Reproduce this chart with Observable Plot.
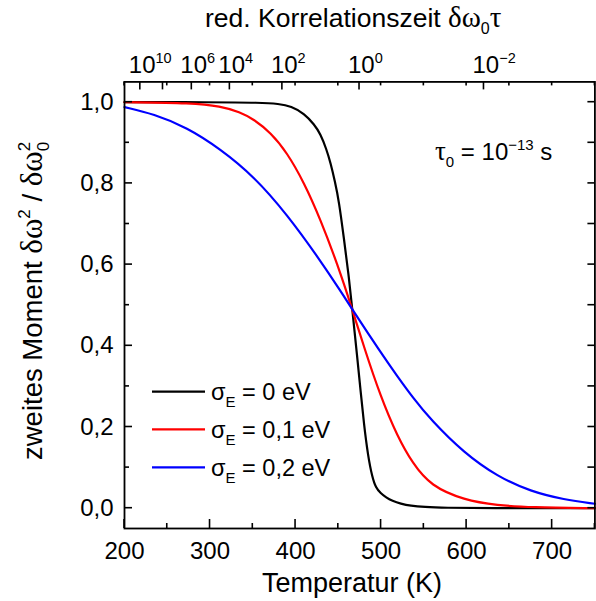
<!DOCTYPE html>
<html><head><meta charset="utf-8">
<script src="https://cdn.jsdelivr.net/npm/d3@7"></script>
<script src="https://cdn.jsdelivr.net/npm/@observablehq/plot@0.6"></script>
<style>
body{margin:0;background:#fff}
#chart svg{display:block}
</style>
</head><body><div id="chart"></div>
<script>
// ---- data ----
const blackT = [200, 300, 360, 380, 395, 410, 422, 429, 436, 441, 446, 450.7, 456.5, 462, 466.3, 472.1, 476, 479.9, 484.6, 489.7, 494, 499.4, 506, 513, 523, 534.5, 550, 575, 620, 750];
const blackV = [1, 1, 0.999, 0.996, 0.99, 0.972, 0.945, 0.922, 0.885, 0.85, 0.805, 0.757, 0.665, 0.576, 0.49, 0.372, 0.29, 0.208, 0.13, 0.076, 0.05, 0.037, 0.026, 0.018, 0.011, 0.006, 0.003, 0.001, 0, 0];
const redT = [200, 280, 312, 335, 351, 371, 390, 410, 429, 449, 466.3, 480, 499.4, 519, 537, 558, 597, 636, 675, 750];
const redV = [1, 0.998, 0.99, 0.976, 0.958, 0.925, 0.876, 0.802, 0.712, 0.601, 0.49, 0.397, 0.275, 0.177, 0.11, 0.055, 0.02, 0.007, 0.002, 0];
const blueT = [200, 234, 273, 312, 351, 390, 429, 451, 466.3, 499.4, 519, 537, 558, 597, 636, 675, 714, 750];
const blueV = [0.988, 0.971, 0.938, 0.885, 0.818, 0.724, 0.61, 0.54, 0.49, 0.384, 0.325, 0.273, 0.218, 0.136, 0.078, 0.041, 0.021, 0.011];

const seriesNames = ["0", "0,1", "0,2"];
const seriesColors = ["#000000", "#ff0000", "#0000ff"];

const xMajorTicks = [200, 300, 400, 500, 600, 700];
const xMinorTicks = [250, 350, 450, 550, 650, 750];
const yMajorTicks = [0, 0.2, 0.4, 0.6, 0.8, 1.0];
const yMinorTicks = [0.1, 0.3, 0.5, 0.7, 0.9];
// top axis: reduced correlation time δω0τ, tick positions given in temperature
const topTickT = [218.5, 245.0, 278.7, 323.2, 384.6, 474.8, 620.3];
const topTickExp = ["10", "", "6", "4", "2", "0", "\u22122"];

// ---- build ----
const toRows = (T, V) => T.map((t, i) => ({T: t, v: V[i]}));
const seriesRows = [toRows(blackT, blackV), toRows(redT, redV), toRows(blueT, blueV)];
const fmtY = d => d3.format(".1f")(d).replace(".", ",");

const xDomain = [200, 750], yDomain = [-0.05, 1.05];
const W = 596, H = 601, ML = 124, MR = 1.6, MT = 81.4, MB = 73;

const chart = Plot.plot({
  width: W, height: H,
  marginLeft: ML, marginRight: MR, marginTop: MT, marginBottom: MB,
  style: {fontFamily: "'Liberation Sans', Arial, sans-serif", fontSize: "24px", color: "#000", background: "#fff", overflow: "visible"},
  x: {domain: xDomain},
  y: {domain: yDomain},
  marks: [
    ...seriesRows.map((rows, i) => Plot.line(rows, {x: "T", y: "v", stroke: seriesColors[i], strokeWidth: 2.2, curve: "basis"})),
    Plot.frame({stroke: "#000", strokeWidth: 1.8}),
    Plot.axisX({anchor: "bottom", ticks: xMajorTicks, tickSize: 0, tickPadding: 13.5, tickFormat: d => String(d), label: null}),
    Plot.axisY({anchor: "left", ticks: yMajorTicks, tickSize: 0, tickPadding: 11, tickFormat: fmtY, label: null})
  ]
});
document.getElementById("chart").appendChild(chart);

const svg = d3.select(chart);
const xs = chart.scale("x"), ys = chart.scale("y");
const SANS = "'Liberation Sans', Arial, sans-serif";
const SERIF = "'Liberation Serif', 'Times New Roman', serif";

// inward tick marks, positioned through Plot's scales
const frameTop = MT, frameBottom = H - MB, frameLeft = ML, frameRight = W - MR;
const tg = svg.append("g");
const addLine = (x1, y1, x2, y2) => tg.append("line")
  .attr("x1", x1).attr("y1", y1).attr("x2", x2).attr("y2", y2)
  .attr("stroke", "#000").attr("stroke-width", 1.6)
  .style("stroke", "#000").style("stroke-width", "1.6px");
const vTicks = (vals, y0, len) => vals.forEach(v => { const x = xs.apply(v); addLine(x, y0, x, y0 + len); });
const hTicks = (vals, x0, len) => vals.forEach(v => { const y = ys.apply(v); addLine(x0, y, x0 + len, y); });
vTicks(xMajorTicks, frameBottom, -9);
vTicks(xMinorTicks, frameBottom, -5);
vTicks(topTickT, frameTop, 8);
vTicks([...xMajorTicks, ...xMinorTicks], frameTop, 4);
hTicks(yMajorTicks, frameLeft, 8);
hTicks(yMinorTicks, frameLeft, 5);
hTicks([...yMajorTicks, ...yMinorTicks], frameRight, -7);

// top tick labels 10^n
const topG = svg.append("g").attr("font-family", SANS).attr("fill", "#000").attr("text-anchor", "start");
topTickT.forEach((t, i) => {
  if (!topTickExp[i]) return;
  const tx = topG.append("text").attr("x", xs.apply(t) - 11).attr("y", 73.3).attr("font-size", 24);
  tx.append("tspan").text("10");
  tx.append("tspan").attr("font-size", 14.5).attr("dy", -10).text(topTickExp[i]);
});

// top title
const tt = svg.append("text").attr("x", 205).attr("y", 26.7).attr("text-anchor", "start")
  .attr("font-family", SANS).attr("font-size", 26.5).attr("fill", "#000");
tt.append("tspan").text("red. Korrelationszeit ");
tt.append("tspan").attr("font-family", SERIF).attr("font-size", 29).text("δω");
tt.append("tspan").attr("font-size", 16).attr("dy", 7).text("0");
tt.append("tspan").attr("font-family", SERIF).attr("font-size", 29).attr("dy", -7).text("τ");

// bottom title
svg.append("text").attr("x", 262).attr("y", 592).attr("text-anchor", "start")
  .attr("font-family", SANS).attr("font-size", 27).attr("fill", "#000").text("Temperatur (K)");

// y title
const yt = svg.append("text").attr("transform", "translate(41.7,460) rotate(-90)").attr("text-anchor", "start")
  .attr("font-family", SANS).attr("font-size", 27.5).attr("fill", "#000");
yt.append("tspan").text("zweites Moment ");
yt.append("tspan").attr("font-family", SERIF).attr("font-size", 31).text("δω");
yt.append("tspan").attr("font-size", 17).attr("dy", -12).text("2");
yt.append("tspan").attr("dy", 12).text(" / ");
yt.append("tspan").attr("font-family", SERIF).attr("font-size", 31).text("δω");
yt.append("tspan").attr("font-size", 17).attr("dy", 7).text("0");
yt.append("tspan").attr("font-size", 17).attr("dx", -9.5).attr("dy", -19).text("2");

// annotation τ0 = 10^-13 s
const an = svg.append("text").attr("x", 435).attr("y", 160).attr("text-anchor", "start")
  .attr("font-family", SANS).attr("font-size", 24).attr("fill", "#000");
an.append("tspan").attr("font-family", SERIF).attr("font-size", 27).text("τ");
an.append("tspan").attr("font-size", 15).attr("dy", 7).text("0");
an.append("tspan").attr("dy", -7).text(" = 10");
an.append("tspan").attr("font-size", 15).attr("dy", -10).text("\u221213");
an.append("tspan").attr("dy", 10).text(" s");

// legend
const lg = svg.append("g").attr("font-family", SANS).attr("fill", "#000").attr("text-anchor", "start");
const legendY = [391.7, 429.3, 467.3];
seriesNames.forEach((name, i) => {
  lg.append("line").attr("x1", 152).attr("x2", 205).attr("y1", legendY[i]).attr("y2", legendY[i])
    .attr("stroke", seriesColors[i]).attr("stroke-width", 2.2);
  const t = lg.append("text").attr("x", 211).attr("y", legendY[i] + 8.5).attr("font-size", 23.5);
  t.append("tspan").text("σ");
  t.append("tspan").attr("font-size", 15).attr("dy", 7).text("E");
  t.append("tspan").attr("dy", -7).text(" = " + name + " eV");
});
</script>
</body></html>
